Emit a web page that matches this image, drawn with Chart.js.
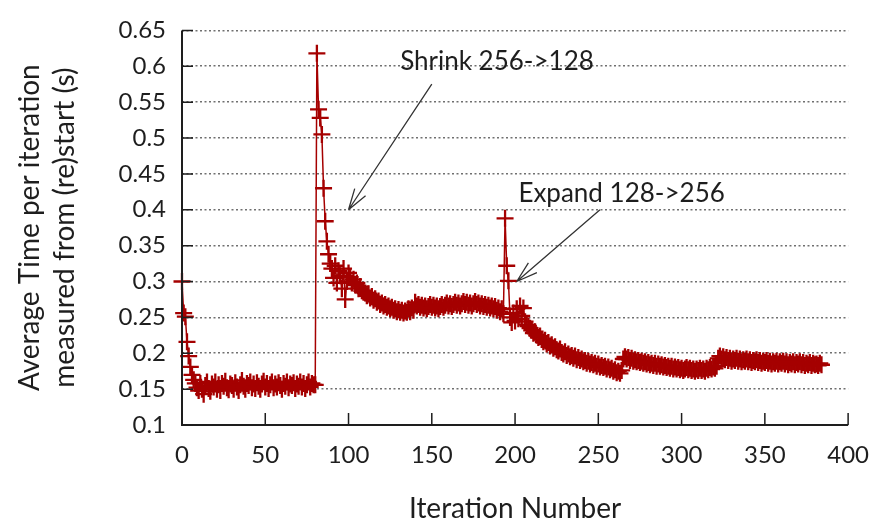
<!DOCTYPE html>
<html>
<head>
<meta charset="utf-8">
<script src="https://cdn.jsdelivr.net/npm/chart.js@4.4.1/dist/chart.umd.min.js"></script>
<style>
  html, body { margin: 0; padding: 0; background: #fff; }
</style>
</head>
<body>
<canvas id="chart" width="885" height="523"></canvas>
<script>
// tick labels
const xTicks = [0, 50, 100, 150, 200, 250, 300, 350, 400];
const yTicks = [0.1, 0.15, 0.2, 0.25, 0.3, 0.35, 0.4, 0.45, 0.5, 0.55, 0.6, 0.65];

// average time per iteration (s), one value per iteration
// iterations 0..80 (256 procs)
const run256 = [
  0.300, 0.256, 0.251, 0.216, 0.196, 0.181, 0.170, 0.163, 0.158,
  0.152, 0.148, 0.158, 0.150, 0.143, 0.155, 0.160, 0.151, 0.147, 0.157, 0.153,
  0.160, 0.150, 0.156, 0.148, 0.158, 0.154, 0.161, 0.152, 0.149, 0.157,
  0.155, 0.150, 0.159, 0.153, 0.148, 0.156, 0.162, 0.154, 0.150, 0.158,
  0.155, 0.160, 0.152, 0.157, 0.151, 0.159, 0.154, 0.150, 0.157, 0.161,
  0.153, 0.158, 0.151, 0.156, 0.160, 0.152, 0.157, 0.153, 0.159, 0.155,
  0.150, 0.158, 0.154, 0.160, 0.152, 0.157, 0.155, 0.159, 0.151, 0.157,
  0.154, 0.160, 0.153, 0.158, 0.151, 0.156, 0.160, 0.153, 0.158, 0.156,
  0.156
];
// iterations 81..193 (after shrink to 128)
const run128 = [
  0.618, 0.540, 0.528, 0.505, 0.430, 0.384, 0.356, 0.338, 0.325,
  0.318, 0.305, 0.322, 0.298, 0.315, 0.308, 0.290, 0.318, 0.275, 0.300,
  0.312, 0.306, 0.298, 0.303, 0.295, 0.298, 0.290, 0.293, 0.287, 0.285,
  0.284, 0.280, 0.283, 0.277, 0.279, 0.274, 0.276, 0.271, 0.273, 0.268,
  0.270, 0.266, 0.268, 0.264, 0.266, 0.262, 0.264, 0.260, 0.262, 0.258,
  0.261, 0.257, 0.260, 0.256, 0.259, 0.257, 0.262, 0.258, 0.263, 0.260,
  0.271, 0.266, 0.268, 0.264, 0.267, 0.263, 0.266, 0.262, 0.265, 0.268,
  0.264, 0.267, 0.263, 0.266, 0.262, 0.265, 0.268, 0.264, 0.267, 0.270,
  0.266, 0.269, 0.265, 0.268, 0.271, 0.267, 0.270, 0.266, 0.269, 0.272,
  0.268, 0.271, 0.267, 0.270, 0.266, 0.269, 0.272, 0.268, 0.270, 0.266,
  0.269, 0.265, 0.268, 0.264, 0.267, 0.263, 0.266, 0.262, 0.265, 0.260,
  0.263, 0.258, 0.262, 0.255
];
// iterations 194..384 (after expand back to 256)
const run256b = [
  0.388, 0.322, 0.301, 0.250, 0.243, 0.256,
  0.245, 0.262, 0.248, 0.266, 0.252, 0.263, 0.244, 0.240, 0.238, 0.235,
  0.232, 0.228, 0.230, 0.225, 0.222, 0.224, 0.219, 0.216, 0.218, 0.213,
  0.215, 0.210, 0.212, 0.207, 0.209, 0.205, 0.203, 0.206, 0.201, 0.199,
  0.202, 0.197, 0.199, 0.195, 0.197, 0.193, 0.196, 0.191, 0.194, 0.190,
  0.192, 0.188, 0.190, 0.186, 0.189, 0.185, 0.187, 0.184, 0.186, 0.182,
  0.185, 0.181, 0.183, 0.180, 0.182, 0.178, 0.181, 0.177, 0.179, 0.175,
  0.177, 0.173, 0.175, 0.172, 0.176, 0.192, 0.195, 0.192, 0.194, 0.190,
  0.193, 0.189, 0.191, 0.188, 0.190, 0.187, 0.189, 0.186, 0.188, 0.185,
  0.187, 0.184, 0.186, 0.183, 0.186, 0.182, 0.185, 0.182, 0.184, 0.181,
  0.183, 0.180, 0.182, 0.179, 0.182, 0.178, 0.181, 0.178, 0.180, 0.177,
  0.179, 0.176, 0.178, 0.180, 0.177, 0.179, 0.176, 0.178, 0.175, 0.178,
  0.176, 0.179, 0.176, 0.178, 0.175, 0.179, 0.177, 0.180, 0.178, 0.181,
  0.179, 0.182, 0.193, 0.196, 0.192, 0.195, 0.191, 0.194, 0.190, 0.193,
  0.189, 0.192, 0.190, 0.193, 0.189, 0.192, 0.188, 0.191, 0.189, 0.192,
  0.188, 0.191, 0.187, 0.190, 0.188, 0.191, 0.187, 0.190, 0.186, 0.189,
  0.187, 0.190, 0.186, 0.189, 0.185, 0.188, 0.186, 0.189, 0.185, 0.188,
  0.186, 0.189, 0.185, 0.188, 0.184, 0.187, 0.185, 0.188, 0.184, 0.187,
  0.185, 0.188, 0.184, 0.187, 0.183, 0.186, 0.184, 0.187, 0.183, 0.186,
  0.184, 0.185, 0.183, 0.186, 0.184
];

const avgTime = run256.concat(run128, run256b);
const points = avgTime.map((v, i) => ({ x: i, y: v }));

// callouts, in data coordinates
const notes = [
  { text: 'Shrink 256->128', at: [131, 0.606], from: [150, 0.575], to: [100, 0.4] },
  { text: 'Expand 128->256', at: [202, 0.423], from: [251, 0.4], to: [201, 0.3] }
];

const FONT = 'Lato, "DejaVu Sans", sans-serif';
const INK = '#1e1e1e';
const RED = '#a50000';

// axes, inward tick marks, arrows and labels
const decor = {
  id: 'decor',
  afterDatasetsDraw(chart) {
    const { ctx, scales: { x, y } } = chart;
    ctx.save();
    ctx.strokeStyle = INK;
    ctx.lineWidth = 2;
    ctx.beginPath();
    ctx.moveTo(x.left, y.top);
    ctx.lineTo(x.left, y.bottom);
    ctx.lineTo(x.right, y.bottom);
    ctx.stroke();
    ctx.lineWidth = 1.5;
    ctx.beginPath();
    xTicks.forEach(v => {
      const px = x.getPixelForValue(v);
      ctx.moveTo(px, y.bottom);
      ctx.lineTo(px, y.bottom - 12);
    });
    yTicks.forEach(v => {
      const py = y.getPixelForValue(v);
      ctx.moveTo(x.left, py);
      ctx.lineTo(x.left + 11, py);
    });
    ctx.stroke();

    ctx.font = '26px ' + FONT;
    ctx.fillStyle = INK;
    ctx.textAlign = 'left';
    ctx.textBaseline = 'middle';
    notes.forEach(n => {
      ctx.fillText(n.text, x.getPixelForValue(n.at[0]), y.getPixelForValue(n.at[1]));
      const x0 = x.getPixelForValue(n.from[0]), y0 = y.getPixelForValue(n.from[1]);
      const x1 = x.getPixelForValue(n.to[0]), y1 = y.getPixelForValue(n.to[1]);
      const a = Math.atan2(y1 - y0, x1 - x0);
      ctx.strokeStyle = '#333';
      ctx.lineWidth = 1.3;
      ctx.beginPath();
      ctx.moveTo(x0, y0);
      ctx.lineTo(x1, y1);
      [0.3, -0.3].forEach(d => {
        ctx.moveTo(x1, y1);
        ctx.lineTo(x1 - 22 * Math.cos(a + d), y1 - 22 * Math.sin(a + d));
      });
      ctx.stroke();
    });
    ctx.restore();
  }
};

new Chart(document.getElementById('chart'), {
  type: 'line',
  data: {
    datasets: [{
      data: points,
      borderColor: RED,
      borderWidth: 1.5,
      pointStyle: 'cross',
      pointRadius: 8.5,
      pointBorderWidth: 2.3,
      pointBorderColor: RED,
      pointBackgroundColor: RED,
      tension: 0,
      clip: false
    }]
  },
  options: {
    responsive: false,
    animation: false,
    layout: { padding: { left: 12, right: 31, top: 20, bottom: 0 } },
    plugins: { legend: { display: false }, tooltip: { enabled: false } },
    scales: {
      x: {
        type: 'linear',
        min: 0,
        max: 400,
        afterBuildTicks: s => { s.ticks = xTicks.map(v => ({ value: v })); },
        afterFit: s => { s.height = 98; },
        grid: { display: false, drawTicks: false },
        border: { display: false },
        ticks: { font: { family: FONT, size: 24 }, color: INK, padding: 16, maxRotation: 0 },
        title: {
          display: true,
          text: 'Iteration Number',
          font: { family: FONT, size: 28, lineHeight: 1.0 },
          color: INK,
          padding: { top: 0, bottom: 0 }
        }
      },
      y: {
        min: 0.1,
        max: 0.65,
        afterBuildTicks: s => { s.ticks = yTicks.map(v => ({ value: v })); },
        afterFit: s => { s.width = 170; },
        grid: {
          color: '#707070',
          lineWidth: 1.6,
          drawTicks: false
        },
        border: { display: false, dash: [2, 2.5] },
        ticks: {
          font: { family: FONT, size: 24 },
          color: INK,
          padding: 16,
          callback: v => String(+v.toFixed(2))
        },
        title: {
          display: true,
          text: ['Average Time per iteration', 'measured from (re)start (s)'],
          font: { family: FONT, size: 28, lineHeight: 1.25 },
          color: INK,
          padding: { top: 0, bottom: 0 }
        }
      }
    }
  },
  plugins: [decor]
});
</script>
</body>
</html>
